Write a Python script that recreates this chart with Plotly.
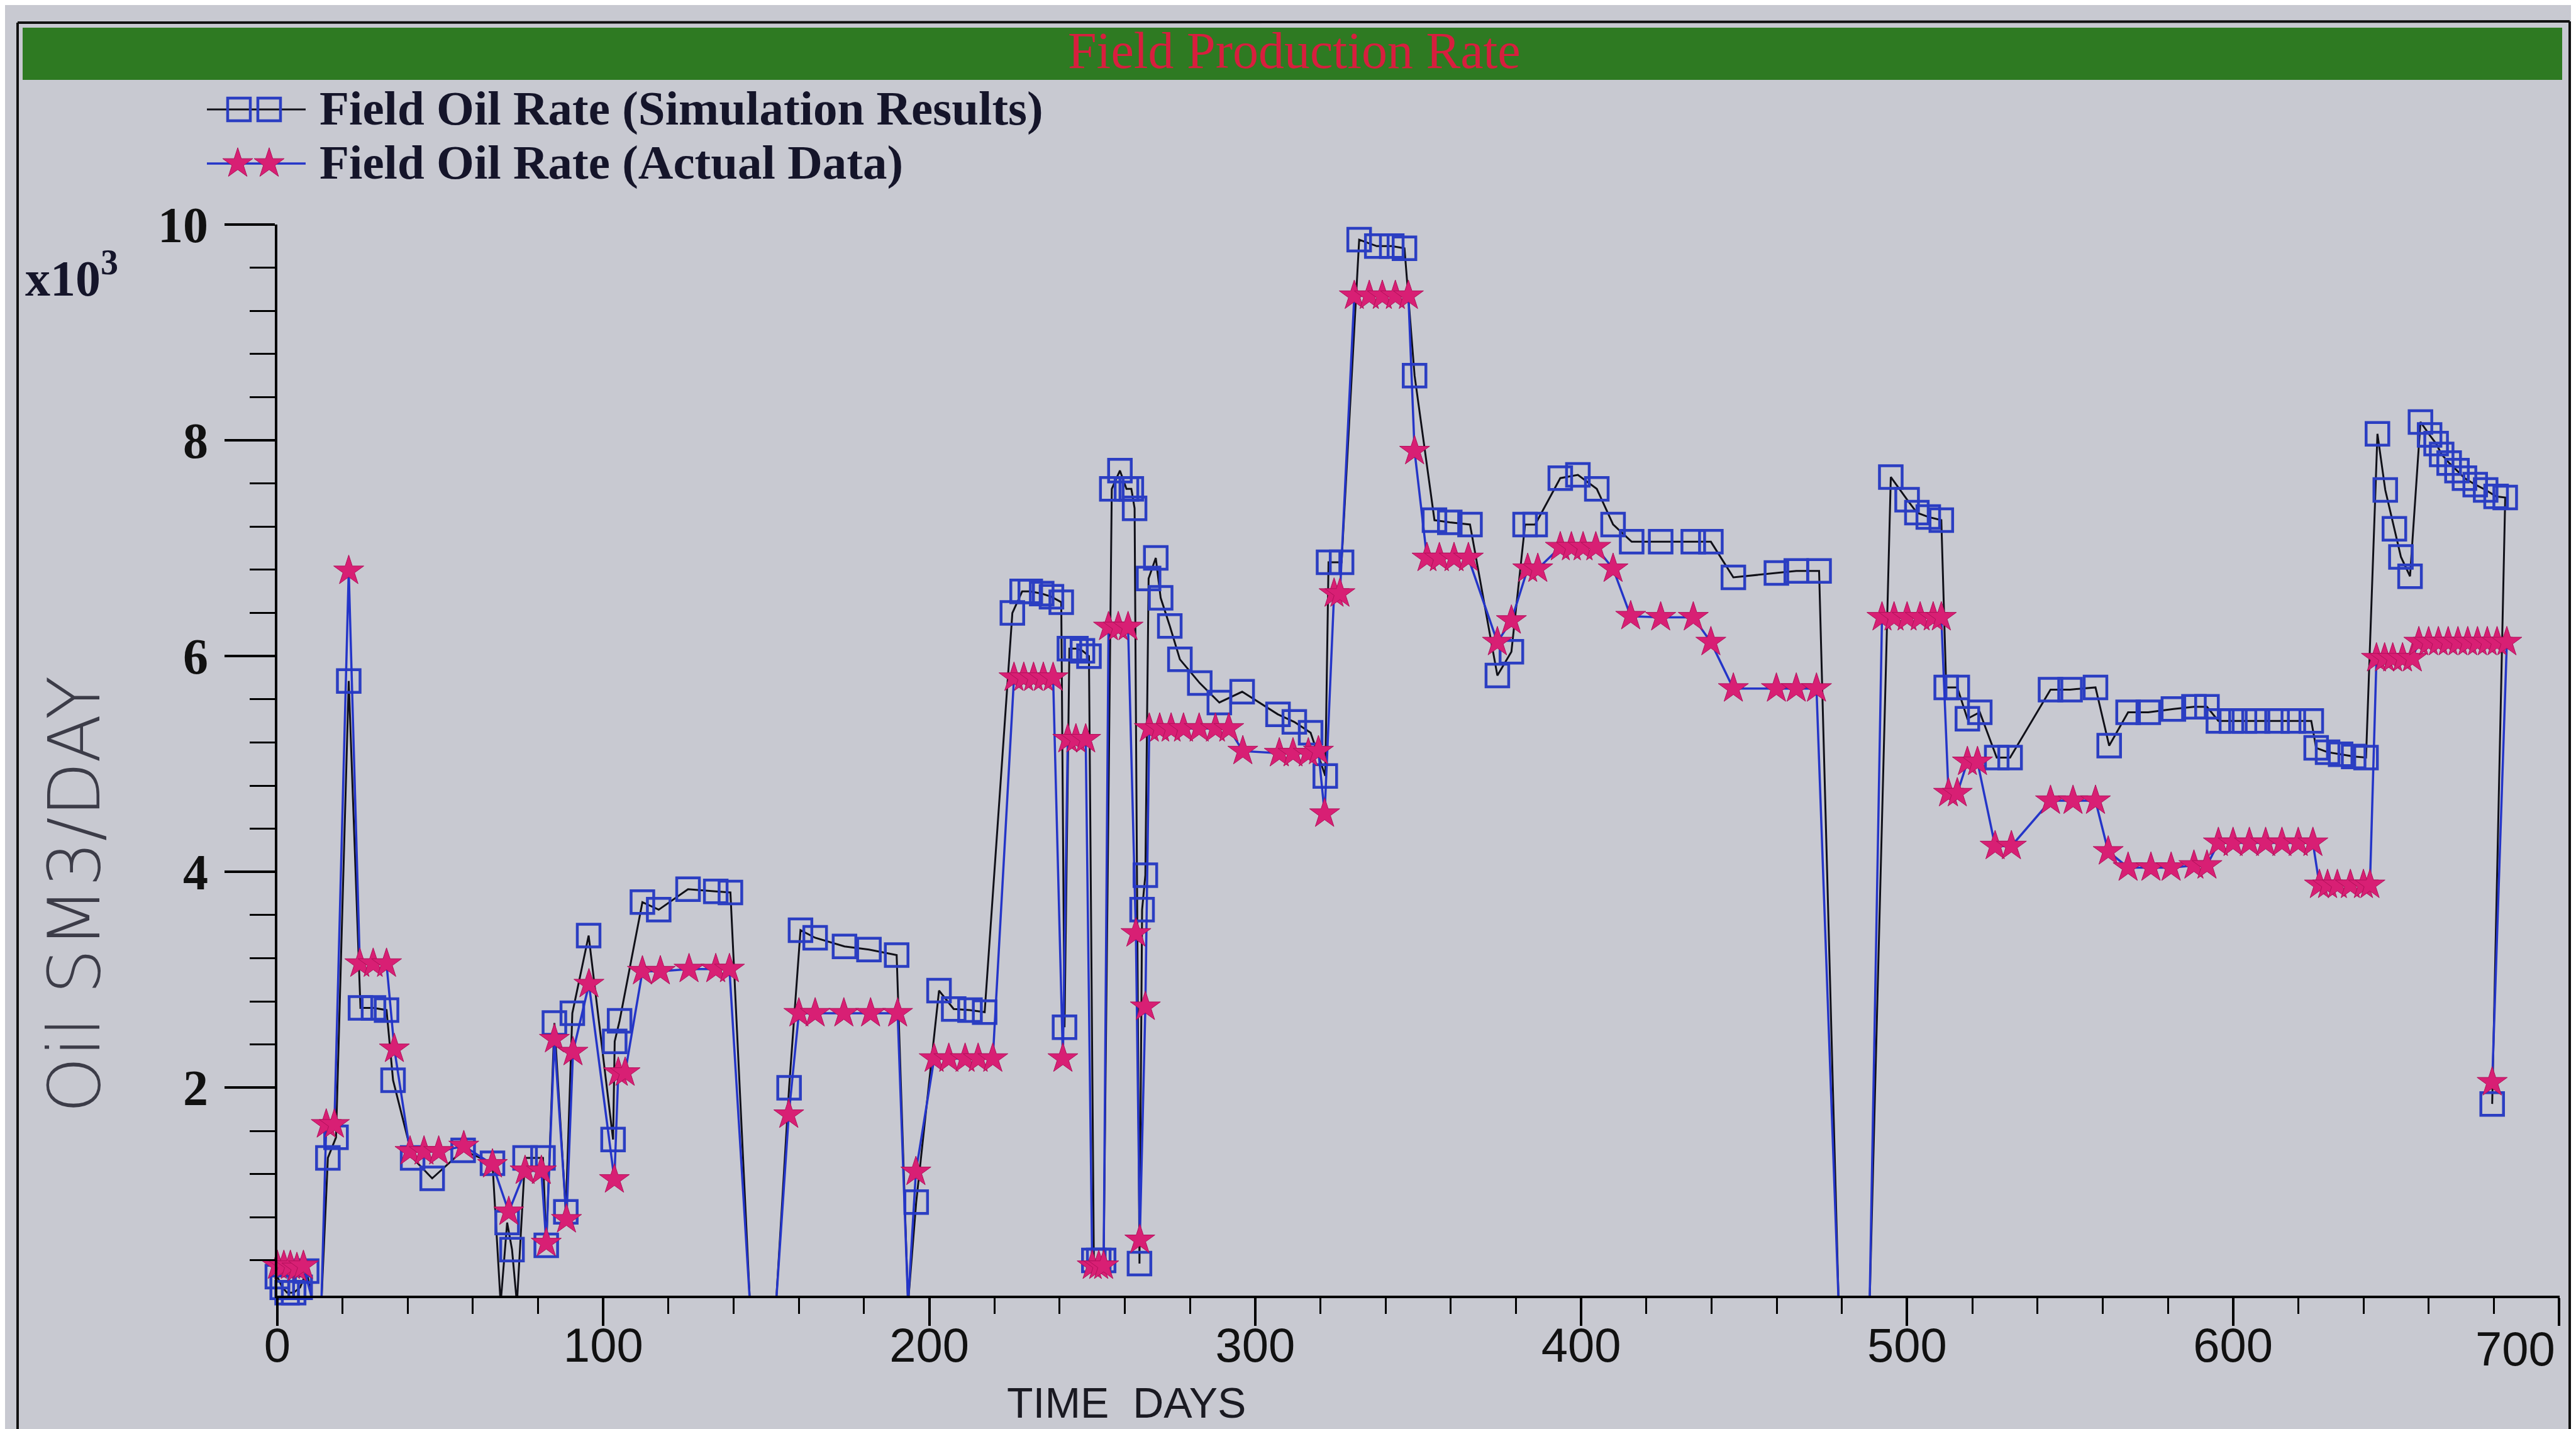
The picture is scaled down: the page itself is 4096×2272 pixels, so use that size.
import plotly.graph_objects as go

W, H = 4096, 2272

# ---------------- data (values in thousands of SM3/day) ----------------
sim_t = [0, 1.5, 3, 5, 7, 9, 11, 13.5, 15.5, 18, 21.9, 25.5, 29.5, 33.5, 35.5, 41.5, 47.5, 57, 66,
         68.5, 70.5, 72, 73.5, 76, 81.5, 82.5, 85, 88.5, 90.5, 95.5, 103, 103.5, 105, 112, 117, 126,
         134.5, 139, 145, 153, 157, 160.5, 165, 174, 181.5, 190, 193.5, 196, 203, 207.5, 212.5, 217,
         225.5, 228.5, 231, 234.5, 237.5, 240.5, 241.5, 243, 245, 247, 249, 250.5, 252, 253.5, 256,
         258.5, 260.5, 262, 263, 264.5, 265.3, 266.3, 267.3, 269.5, 271, 273.8, 276.9, 283, 289, 296,
         307, 312, 317, 321.5, 322.5, 326.5, 331.9, 337.3, 341.9, 345.8, 348.9, 355, 359.7, 365.9,
         374.3, 378.6, 382.8, 385.9, 393.6, 399, 404.8, 409.8, 415.5, 424.4, 434.4, 439.8, 446.7,
         459.9, 466, 473, 479, 488.5, 495, 500, 503, 506.5, 510.5, 512, 515.4, 518.5, 522.3, 527.5,
         531.6, 544, 550, 557.8, 562, 567.8, 574, 581.7, 588, 592, 595.5, 599.5, 603.5, 607.5, 613.5,
         618.5, 624, 625.5, 629, 633, 637, 640.8, 644.3, 646.7, 649.5, 651.5, 654.3, 657.5, 660.3,
         662.3, 664, 666.3, 668.7, 671, 674.3, 677.5, 680.7, 683.5, 679.5]
sim_v = [0.25, 0.15, 0.1, 0.1, 0.15, 0.3, 0, 0, 1.35, 1.54, 5.77, 2.74, 2.74, 2.72, 2.07, 1.35, 1.16, 1.42, 1.30,
         0, 0.75, 0.5, 0, 1.35, 1.35, 0.54, 2.6, 0.85, 2.69, 3.41, 1.52, 2.43, 2.62, 3.72, 3.65, 3.84,
         3.82, 3.81, 0, 0, 2.0, 3.46, 3.39, 3.31, 3.28, 3.23, 0, 0.94, 2.90, 2.73, 2.72, 2.70,
         6.40, 6.60, 6.60, 6.58, 6.55, 6.50, 2.56, 6.07, 6.07, 6.05, 6.00, 0.40, 0.40, 0.40, 7.55,
         7.72, 7.55, 7.55, 7.37, 0.37, 3.65, 3.97, 6.72, 6.91, 6.54, 6.28, 5.97, 5.75, 5.57, 5.67,
         5.46, 5.39, 5.29, 4.89, 6.87, 6.87, 9.86, 9.80, 9.80, 9.78, 8.60, 7.26, 7.24, 7.22,
         5.82, 6.04, 7.22, 7.22, 7.65, 7.68, 7.55, 7.22, 7.06, 7.06, 7.06, 7.06, 6.73,
         6.77, 6.79, 6.79, 0, 0, 7.66, 7.45, 7.33, 7.29, 7.26, 5.71, 5.71, 5.42, 5.48, 5.06,
         5.06, 5.69, 5.69, 5.71, 5.17, 5.48, 5.48, 5.51, 5.53, 5.53, 5.40, 5.40, 5.40, 5.40, 5.40,
         5.40, 5.40, 5.15, 5.11, 5.09, 5.07, 5.06, 8.06, 7.54, 7.18, 6.92, 6.74, 8.17, 8.05,
         7.97, 7.87, 7.79, 7.72, 7.65, 7.59, 7.54, 7.48, 7.47, 1.85]

act_t = [0, 2, 4, 6, 8, 11, 13.5, 15, 17.5, 21.9, 25.3, 29.4, 33.5, 35.9, 40.7, 45, 49.5, 57.2, 66,
         71, 76, 81, 82.5, 85, 88.7, 90.7, 95.6, 103.4, 104.6, 106.7, 112, 117.5, 126.3, 134.5, 138.7,
         145, 153, 156.9, 160, 165, 173.8, 182, 190.3, 193.5, 195.9, 201.5, 206, 211, 215, 219.5,
         226, 229, 232, 235, 238, 241, 242.5, 245, 248, 250, 252, 253.5, 255, 258, 261, 263.4, 264.6,
         266.3, 267.5, 270.7, 274.2, 278, 282.8, 287.8, 291.9, 296.2, 307.4, 311.6, 316.3, 319.4,
         321.3, 324.2, 326, 330.4, 335, 339, 343, 347, 348.9, 352.7, 356.5, 361, 365.4, 374.3, 378.6,
         383.6, 386.7, 393.6, 397, 400.6, 404.5, 409.8, 415.2, 424.4, 434.4, 439.8, 446.7, 459.9, 466,
         472.2, 479, 488.5, 492.3, 496, 500, 504, 508, 510.5, 512.7, 515.4, 518.5, 521.6, 527, 532,
         544, 550.9, 557.8, 561.7, 567.8, 574.8, 581, 588, 592, 595.5, 600, 605, 610, 615, 620, 624.5,
         626.5, 629, 632, 636, 640, 642, 644, 646.5, 649, 652, 655, 657, 660, 663, 666, 669, 672, 675,
         678, 681, 684, 679.5]
act_v = [0.35, 0.35, 0.35, 0.33, 0.35, 0, 0, 1.66, 1.66, 6.79, 3.15, 3.15, 3.15, 2.36, 1.41, 1.41, 1.41, 1.46, 1.29,
         0.85, 1.23, 1.23, 0.56, 2.45, 0.78, 2.33, 2.96, 1.15, 2.14, 2.14, 3.08, 3.08, 3.10, 3.10, 3.10,
         0, 0, 1.75, 2.69, 2.69, 2.69, 2.69, 2.69, 0, 1.22, 2.27, 2.27, 2.27, 2.27, 2.27,
         5.80, 5.80, 5.80, 5.80, 5.80, 2.27, 5.23, 5.23, 5.23, 0.35, 0.35, 0.35, 6.27, 6.27, 6.27, 3.43, 0.59,
         2.75, 5.33, 5.33, 5.33, 5.33, 5.33, 5.33, 5.33, 5.12, 5.10, 5.10, 5.10, 5.12,
         4.54, 6.58, 6.58, 9.34, 9.34, 9.34, 9.34, 9.34, 7.90, 6.91, 6.91, 6.91, 6.91, 6.13, 6.33,
         6.81, 6.81, 7.01, 7.01, 7.01, 7.01, 6.81, 6.37, 6.36, 6.36, 6.13, 5.70, 5.70, 5.70,
         5.70, 0, 0, 6.36, 6.36, 6.36, 6.36, 6.36, 6.36, 4.73, 4.73, 5.02, 5.02, 4.24, 4.24,
         4.66, 4.66, 4.66, 4.19, 4.04, 4.04, 4.04, 4.06, 4.06, 4.27, 4.27, 4.27, 4.27, 4.27, 4.27, 4.27,
         3.88, 3.88, 3.88, 3.88, 3.88, 3.88, 5.98, 5.98, 5.98, 5.98, 5.98, 6.13, 6.13, 6.13, 6.13, 6.13, 6.13, 6.13,
         6.13, 6.13, 6.13, 2.05]

x_tickvals = [0, 100, 200, 300, 400, 500, 600, 700]
x_ticktext = ["0", "100", "200", "300", "400", "500", "600", "700"]
y_tickvals = [2, 4, 6, 8, 10]
y_ticktext = ["2", "4", "6", "8", "10"]

sim_name = "Field Oil Rate (Simulation Results)"
act_name = "Field Oil Rate (Actual Data)"
title_text = "Field Production Rate"
y_title = "Oil SM3/DAY"
x_title = "TIME  DAYS"
y_mult = "x10<sup>3</sup>"

# ---------------- styles ----------------
BG = "#c8c9d1"
SQ_COLOR = "#2b3ec2"
STAR_COLOR = "#d81f74"
ACT_LINE = "#2435c8"
SIM_LINE = "#101018"
SQ_SIZE = 36
STAR_SIZE = 36
XTICK_FONT = dict(family="Liberation Sans", size=76, color="#111")

# the last x label sits flush left of its tick (as in the reference): it is drawn as an
# annotation anchored at that tick, the axis itself draws the others
x_ticktext_drawn = x_ticktext[:-1] + [""]

fig = go.Figure()

# simulation (black line, blue open squares)
fig.add_trace(go.Scatter(
    x=sim_t, y=sim_v, mode="lines+markers", showlegend=False, cliponaxis=False,
    line=dict(color=SIM_LINE, width=3),
    marker=dict(symbol="square-open", size=SQ_SIZE, color=SQ_COLOR,
                line=dict(color=SQ_COLOR, width=4.5),
                opacity=[0 if v <= 0 else 1 for v in sim_v]),
    xaxis="x", yaxis="y"))

# actual (blue line, magenta stars)
fig.add_trace(go.Scatter(
    x=act_t, y=act_v, mode="lines+markers", showlegend=False, cliponaxis=False,
    line=dict(color=ACT_LINE, width=3.5),
    marker=dict(symbol="star", size=STAR_SIZE, color=STAR_COLOR,
                line=dict(color="#b0105a", width=1),
                opacity=[0 if v <= 0 else 1 for v in act_v]),
    xaxis="x", yaxis="y"))

# ---------------- legend samples (pixel coordinates on x2/y2) ----------------
fig.add_trace(go.Scatter(
    x=[321, 372, 420, 478], y=[166, 166, 166, 166], mode="lines+markers", showlegend=False,
    line=dict(color=SIM_LINE, width=3),
    marker=dict(symbol="square-open", size=SQ_SIZE, color=SQ_COLOR,
                line=dict(color=SQ_COLOR, width=4.5), opacity=[0, 1, 1, 0]),
    xaxis="x2", yaxis="y2", cliponaxis=False))
fig.add_trace(go.Scatter(
    x=[321, 370, 420, 478], y=[252, 252, 252, 252], mode="lines+markers", showlegend=False,
    line=dict(color=ACT_LINE, width=3.5),
    marker=dict(symbol="star", size=STAR_SIZE, color=STAR_COLOR,
                line=dict(color="#b0105a", width=1), opacity=[0, 1, 1, 0]),
    xaxis="x2", yaxis="y2", cliponaxis=False))

annotations = [
    dict(text=sim_name, x=498, y=164, xref="x2", yref="y2", xanchor="left", yanchor="middle",
         showarrow=False, font=dict(family="Liberation Serif", size=77, color="#15152a", weight="bold")),
    dict(text=act_name, x=498, y=250, xref="x2", yref="y2", xanchor="left", yanchor="middle",
         showarrow=False, font=dict(family="Liberation Serif", size=77, color="#15152a", weight="bold")),
    dict(text=title_text, x=2050, y=72, xref="x2", yref="y2", xanchor="center", yanchor="middle",
         showarrow=False, font=dict(family="Liberation Serif", size=82, color="#d81e3e")),
    dict(text=y_title, x=110, y=1414, xref="x2", yref="y2", xanchor="center", yanchor="middle",
         textangle=-90, showarrow=False,
         font=dict(family="DejaVu Sans", size=114, color="#3c3c48", weight=200)),
    dict(text=x_title, x=1783, y=2222, xref="x2", yref="y2", xanchor="center", yanchor="middle",
         showarrow=False, font=dict(family="Liberation Sans", size=68, color="#1a1a22")),
    dict(text=y_mult, x=106, y=428, xref="x2", yref="y2", xanchor="center", yanchor="middle",
         showarrow=False, font=dict(family="Liberation Serif", size=80, color="#15152a", weight="bold")),
    # last x tick label, right-aligned at its tick
    dict(text=x_ticktext[-1], x=x_tickvals[-1], y=2136, xref="x", yref="y2", xanchor="right",
         yanchor="middle", xshift=-4, showarrow=False, font=XTICK_FONT),
]

shapes = [
    # green title bar
    dict(type="rect", xref="x2", yref="y2", x0=28, x1=4066, y0=36, y1=119,
         fillcolor="#2e7a22", line=dict(width=0), layer="below"),
    # outer frame
    dict(type="line", xref="x2", yref="y2", x0=20, x1=4078, y0=28, y1=26,
         line=dict(color="#111", width=4)),
    dict(type="line", xref="x2", yref="y2", x0=20, x1=20, y0=28, y1=2272,
         line=dict(color="#111", width=4)),
    dict(type="line", xref="x2", yref="y2", x0=4078, x1=4078, y0=26, y1=2272,
         line=dict(color="#111", width=4)),
]

fig.update_layout(
    template="none",
    width=W, height=H, autosize=False,
    margin=dict(l=0, r=0, t=0, b=0, pad=0, autoexpand=False),
    paper_bgcolor=BG, plot_bgcolor="rgba(0,0,0,0)",
    showlegend=False,
    annotations=annotations, shapes=shapes,
    xaxis=dict(domain=[433 / W, 4062 / W], range=[0, 700.2], anchor="y", automargin=False,
               showline=True, linecolor="black", linewidth=4, mirror=False,
               ticks="outside", ticklen=44, tickwidth=4, tickcolor="black",
               tickvals=x_tickvals, ticktext=x_ticktext_drawn, ticklabelstandoff=-34,
               tickfont=XTICK_FONT,
               showgrid=False, zeroline=False,
               minor=dict(ticks="outside", dtick=20, tick0=0, ticklen=25, tickwidth=3,
                          tickcolor="black", showgrid=False)),
    yaxis=dict(domain=[1 - 2052 / H, 1 - 349 / H], range=[0.073, 10], anchor="x", automargin=False,
               showline=True, linecolor="black", linewidth=4, mirror=False,
               ticks="outside", ticklen=80, tickwidth=4, tickcolor="black",
               tickvals=y_tickvals, ticktext=y_ticktext, ticklabelstandoff=10,
               tickfont=dict(family="Liberation Serif", size=80, color="#111", weight="bold"),
               showgrid=False, zeroline=False,
               minor=dict(ticks="outside", dtick=0.4, tick0=0, ticklen=40, tickwidth=3,
                          tickcolor="black", showgrid=False)),
    xaxis2=dict(domain=[0, 1], range=[0, W], anchor="y2", visible=False, fixedrange=True,
                automargin=False),
    yaxis2=dict(domain=[0, 1], range=[H, 0], anchor="x2", visible=False, fixedrange=True,
                automargin=False),
)

fig.write_html("out.html")
